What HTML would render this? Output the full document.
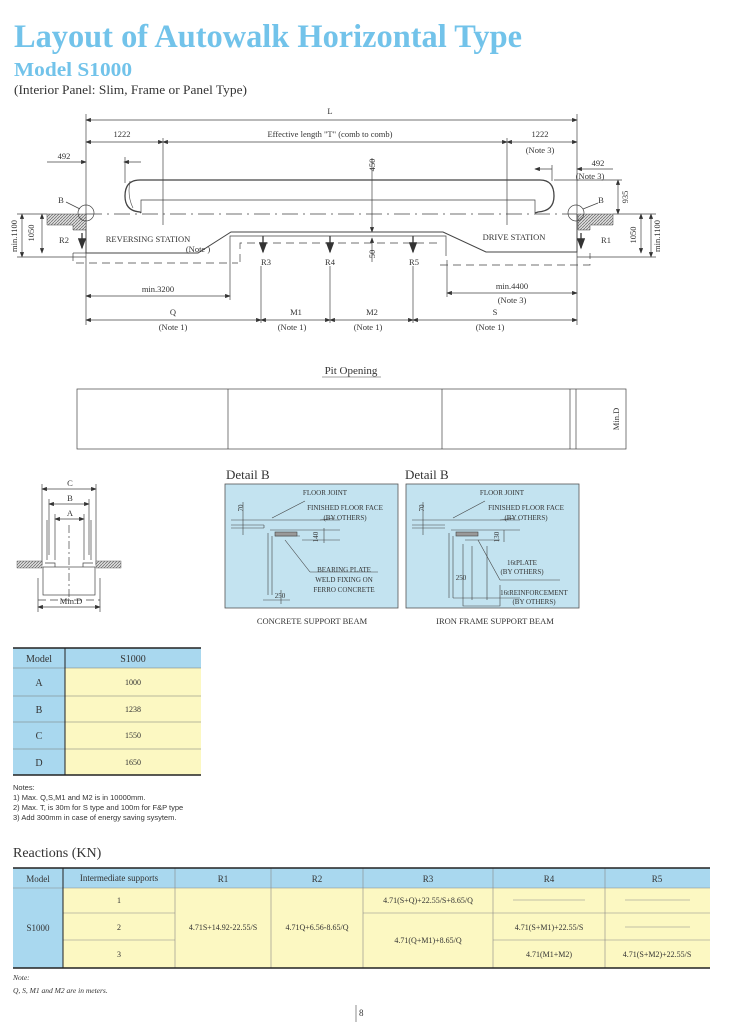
<!DOCTYPE html>
<html><head><meta charset="utf-8"><style>
html,body{margin:0;padding:0;background:#fff;}
svg{display:block;}
text{font-family:"Liberation Serif",serif;fill:#333;}
.s{font-family:"Liberation Sans",sans-serif;}
</style></head><body>
<svg width="730" height="1024" viewBox="0 0 730 1024" xmlns="http://www.w3.org/2000/svg">
<defs>
<marker id="a" markerWidth="8" markerHeight="6" refX="7" refY="3" orient="auto-start-reverse"><path d="M0,0 L8,3 L0,6z" fill="#333"/></marker>
<pattern id="h" width="3" height="3" patternUnits="userSpaceOnUse"><rect width="3" height="3" fill="#ddd"/><path d="M0,3 L3,0" stroke="#666" stroke-width="0.7"/></pattern>
</defs>
<!-- Titles -->
<text x="14" y="47" font-size="33" font-weight="bold" style="fill:#72c3ea" textLength="508" lengthAdjust="spacingAndGlyphs">Layout of Autowalk Horizontal Type</text>
<text x="14" y="76" font-size="20" font-weight="bold" style="fill:#72c3ea" textLength="118" lengthAdjust="spacingAndGlyphs">Model S1000</text>
<text x="14" y="94" font-size="13" textLength="233" lengthAdjust="spacingAndGlyphs">(Interior Panel: Slim, Frame or Panel Type)</text>

<g stroke="#444" stroke-width="0.7" fill="none">
<line x1="86" y1="120" x2="577" y2="120" marker-start="url(#a)" marker-end="url(#a)"/>
<line x1="86" y1="142" x2="163" y2="142" marker-start="url(#a)" marker-end="url(#a)"/>
<line x1="163" y1="142" x2="507" y2="142" marker-start="url(#a)" marker-end="url(#a)"/>
<line x1="507" y1="142" x2="577" y2="142" marker-start="url(#a)" marker-end="url(#a)"/>
<line x1="86" y1="114" x2="86" y2="325"/>
<line x1="577" y1="114" x2="577" y2="325"/>
<line x1="163" y1="138" x2="163" y2="225"/>
<line x1="507" y1="138" x2="507" y2="225"/>
<line x1="47" y1="162" x2="86" y2="162" marker-end="url(#a)"/>
<line x1="124" y1="162" x2="141" y2="162" marker-start="url(#a)"/>
<line x1="125" y1="157" x2="125" y2="183"/>
<line x1="535" y1="169" x2="552" y2="169" marker-start="url(#a)"/>
<line x1="577" y1="169" x2="613" y2="169" marker-start="url(#a)"/>
<line x1="552" y1="165" x2="552" y2="181"/>
<path d="M140,180 L540,180 Q554,180 554,196 Q554,211 538,212 L535,213 M140,180 Q125,180 125,196 Q125,211 140,212 L141,213" stroke-width="1.3"/>
<path d="M130,181 Q127,196 133,208" stroke-width="0.6"/>
<path d="M141,213 L141,200 L535,200 L535,213"/>
<line x1="86" y1="214" x2="577" y2="214" stroke-dasharray="16,5,2,5"/>
<line x1="372" y1="158" x2="372" y2="232" marker-end="url(#a)"/>
<line x1="372" y1="238" x2="372" y2="262" marker-start="url(#a)"/>
<line x1="618" y1="180" x2="618" y2="214" marker-start="url(#a)" marker-end="url(#a)"/>
<line x1="554" y1="180" x2="622" y2="180"/>
<path d="M86,214 L86,253 L198,253 L231,232 L443,232 L486,252 L577,252 L577,214" stroke-width="1"/>
<path d="M230,300 L230,236 L446,236 L446,256" />
<path d="M240,262 L240,243 L440,243" stroke-dasharray="8,5"/>
<path d="M73,253 L73,263 L238,263 M440,265 L590,265 L590,253" stroke-dasharray="8,5"/>
<line x1="73" y1="253" x2="86" y2="253"/>
<path d="M47,214 L86,214 L86,230 L73,230 L73,225 L47,225z" fill="url(#h)" stroke-width="0.5"/>
<path d="M578,214 L613,214 L613,225 L590,225 L590,230 L578,230z" fill="url(#h)" stroke-width="0.5"/>
<circle cx="86" cy="213" r="8"/><circle cx="576" cy="213" r="8"/>
<line x1="66" y1="202" x2="80" y2="209"/><line x1="598" y1="203" x2="583" y2="209"/>
<line x1="42" y1="214" x2="42" y2="253" marker-start="url(#a)" marker-end="url(#a)"/>
<line x1="22" y1="214" x2="22" y2="257" marker-start="url(#a)" marker-end="url(#a)"/>
<line x1="641" y1="214" x2="641" y2="253" marker-start="url(#a)" marker-end="url(#a)"/>
<line x1="651" y1="214" x2="651" y2="257" marker-start="url(#a)" marker-end="url(#a)"/>
<line x1="17" y1="214" x2="47" y2="214"/><line x1="17" y1="257" x2="86" y2="257"/>
<line x1="613" y1="214" x2="656" y2="214"/><line x1="577" y1="257" x2="656" y2="257"/>
<g stroke-width="1.4">
<line x1="82" y1="233" x2="82" y2="248" marker-end="url(#a)"/>
<line x1="581" y1="233" x2="581" y2="248" marker-end="url(#a)"/>
<line x1="263" y1="236" x2="263" y2="252" marker-end="url(#a)"/>
<line x1="330" y1="236" x2="330" y2="252" marker-end="url(#a)"/>
<line x1="413" y1="236" x2="413" y2="252" marker-end="url(#a)"/>
</g>
<line x1="261" y1="266" x2="261" y2="323"/><line x1="330" y1="266" x2="330" y2="323"/><line x1="413" y1="266" x2="413" y2="323"/>
<line x1="447" y1="260" x2="447" y2="297"/>
<line x1="86" y1="296" x2="230" y2="296" marker-start="url(#a)" marker-end="url(#a)"/>
<line x1="447" y1="293" x2="577" y2="293" marker-start="url(#a)" marker-end="url(#a)"/>
<line x1="86" y1="320" x2="261" y2="320" marker-start="url(#a)" marker-end="url(#a)"/>
<line x1="261" y1="320" x2="330" y2="320" marker-start="url(#a)" marker-end="url(#a)"/>
<line x1="330" y1="320" x2="413" y2="320" marker-start="url(#a)" marker-end="url(#a)"/>
<line x1="413" y1="320" x2="577" y2="320" marker-start="url(#a)" marker-end="url(#a)"/>
<rect x="77" y="389" width="549" height="60"/>
<line x1="228" y1="389" x2="228" y2="449"/><line x1="442" y1="389" x2="442" y2="449"/>
<line x1="570" y1="389" x2="570" y2="449"/><line x1="576" y1="389" x2="576" y2="449"/>
<line x1="42" y1="489" x2="96" y2="489" marker-start="url(#a)" marker-end="url(#a)"/>
<line x1="49" y1="504" x2="89" y2="504" marker-start="url(#a)" marker-end="url(#a)"/>
<line x1="55" y1="519" x2="84" y2="519" marker-start="url(#a)" marker-end="url(#a)"/>
<line x1="42" y1="484" x2="42" y2="565"/><line x1="96" y1="484" x2="96" y2="565"/>
<line x1="49" y1="499" x2="49" y2="555"/><line x1="89" y1="499" x2="89" y2="555"/>
<line x1="55" y1="514" x2="55" y2="560"/><line x1="84" y1="514" x2="84" y2="560"/>
<line x1="47" y1="520" x2="47" y2="560"/><line x1="91" y1="520" x2="91" y2="560"/>
<line x1="69" y1="525" x2="69" y2="600" stroke-dasharray="8,3,2,3"/>
<rect x="43" y="567" width="52" height="28"/>
<path d="M45,563 L55,563 L55,567 M93,563 L83,563 L83,567"/>
<line x1="38" y1="600" x2="100" y2="600" stroke-dasharray="8,4"/>
<line x1="38" y1="578" x2="38" y2="612"/><line x1="100" y1="578" x2="100" y2="612"/>
<line x1="38" y1="607" x2="100" y2="607" marker-start="url(#a)" marker-end="url(#a)"/>
<rect x="17" y="561" width="25" height="7" fill="url(#h)" stroke-width="0.4"/>
<rect x="96" y="561" width="25" height="7" fill="url(#h)" stroke-width="0.4"/>
</g>

<g font-size="8.5" text-anchor="middle">
<text x="330" y="114">L</text>
<text x="122" y="137">1222</text>
<text x="330" y="137">Effective length "T" (comb to comb)</text>
<text x="540" y="137">1222</text>
<text x="540" y="153">(Note 3)</text>
<text x="64" y="159">492</text>
<text x="598" y="166">492</text>
<text x="590" y="179">(Note 3)</text>
<text x="61" y="203">B</text><text x="601" y="203">B</text>
<text x="148" y="242">REVERSING STATION</text>
<text x="198" y="252">(Note )</text>
<text x="514" y="240">DRIVE STATION</text>
<text x="64" y="243">R2</text><text x="606" y="243">R1</text>
<text x="266" y="265">R3</text><text x="330" y="265">R4</text><text x="414" y="265">R5</text>
<text x="158" y="292">min.3200</text>
<text x="512" y="289">min.4400</text>
<text x="512" y="303">(Note 3)</text>
<text x="173" y="315">Q</text><text x="296" y="315">M1</text><text x="372" y="315">M2</text><text x="495" y="315">S</text>
<text x="173" y="330">(Note 1)</text><text x="292" y="330">(Note 1)</text><text x="368" y="330">(Note 1)</text><text x="490" y="330">(Note 1)</text>
<text transform="translate(375,165) rotate(-90)">450</text>
<text transform="translate(375,254) rotate(-90)">50</text>
<text transform="translate(628,197) rotate(-90)">935</text>
<text transform="translate(34,233) rotate(-90)">1050</text>
<text transform="translate(17,236) rotate(-90)">min.1100</text>
<text transform="translate(636,235) rotate(-90)">1050</text>
<text transform="translate(660,236) rotate(-90)">min.1100</text>
<text transform="translate(619,419) rotate(-90)">Min.D</text>
<text x="70" y="486">C</text><text x="70" y="501">B</text><text x="70" y="516">A</text>
<text x="71" y="604">Min.D</text>
</g>
<text x="351" y="374" font-size="11" text-anchor="middle">Pit Opening</text>
<line x1="322" y1="377" x2="381" y2="377" stroke="#444" stroke-width="0.6"/>

<text x="226" y="479" font-size="13">Detail B</text>
<text x="405" y="479" font-size="13">Detail B</text>
<rect x="225" y="484" width="173" height="124" fill="#c3e3f0" stroke="#555" stroke-width="0.8"/>
<rect x="406" y="484" width="173" height="124" fill="#c3e3f0" stroke="#555" stroke-width="0.8"/>
<g stroke="#444" stroke-width="0.6" fill="none">
<path d="M231,520 L340,520 M231,525 L264,525 M231,528 L264,528 M264,525 L264,528 M270,530 L340,530 M268,533 L268,595 M272,536 L272,595 M275,536 L300,536 M302,540 L340,540 M263,600 L290,600"/>
<rect x="275" y="532" width="22" height="4" fill="#999"/>
<line x1="243" y1="502" x2="243" y2="535"/>
<line x1="305" y1="501" x2="272" y2="518"/><line x1="335" y1="518" x2="320" y2="520"/>
<line x1="324" y1="528" x2="324" y2="543"/>
<line x1="285" y1="540" x2="310" y2="572" /><line x1="310" y1="572" x2="378" y2="572"/>
<line x1="281" y1="590" x2="281" y2="604"/>
<path d="M412,520 L520,520 M412,525 L445,525 M412,528 L445,528 M451,530 L520,530 M449,533 L449,598 M453,536 L453,598 M465,540 L500,540 M463,544 L463,606 L500,606 L500,585 M472,546 L472,600 M487,546 L487,600 M453,598 L520,598"/>
<rect x="456" y="532" width="22" height="4" fill="#999"/>
<line x1="423" y1="502" x2="423" y2="535"/>
<line x1="485" y1="501" x2="453" y2="518"/><line x1="515" y1="518" x2="500" y2="520"/>
<line x1="504" y1="530" x2="504" y2="542"/>
<line x1="478" y1="540" x2="500" y2="580"/><line x1="500" y1="580" x2="560" y2="580"/>
</g>
<g font-size="7" text-anchor="middle">
<text x="325" y="495">FLOOR JOINT</text>
<text x="345" y="510">FINISHED FLOOR FACE</text><text x="345" y="520">(BY OTHERS)</text>
<text transform="translate(243,508) rotate(-90)">70</text>
<text transform="translate(318,537) rotate(-90)">140</text>
<text x="344" y="572">BEARING PLATE</text>
<text x="344" y="582">WELD FIXING ON</text>
<text x="344" y="592">FERRO CONCRETE</text>
<text x="280" y="598">250</text>
<text x="502" y="495">FLOOR JOINT</text>
<text x="526" y="510">FINISHED FLOOR FACE</text><text x="526" y="520">(BY OTHERS)</text>
<text transform="translate(424,508) rotate(-90)">70</text>
<text transform="translate(499,537) rotate(-90)">130</text>
<text x="522" y="565">16tPLATE</text><text x="522" y="574">(BY OTHERS)</text>
<text x="461" y="580">250</text>
<text x="534" y="595">16tREINFORCEMENT</text><text x="534" y="604">(BY OTHERS)</text>
<text x="312" y="624" font-size="8.5">CONCRETE SUPPORT BEAM</text>
<text x="495" y="624" font-size="8.5">IRON FRAME SUPPORT BEAM</text>
</g>

<rect x="13" y="648" width="188" height="127" fill="#fcf8c2"/>
<rect x="13" y="648" width="188" height="20" fill="#a9d8ef"/>
<rect x="13" y="648" width="52" height="127" fill="#a9d8ef"/>
<g stroke="#777" stroke-width="0.6">
<line x1="13" y1="696" x2="201" y2="696"/><line x1="13" y1="722" x2="201" y2="722"/><line x1="13" y1="749" x2="201" y2="749"/>
<line x1="13" y1="668" x2="201" y2="668"/>
</g>
<line x1="65" y1="648" x2="65" y2="775" stroke="#222" stroke-width="1"/>
<line x1="13" y1="648" x2="201" y2="648" stroke="#222" stroke-width="1.5"/>
<line x1="13" y1="775" x2="201" y2="775" stroke="#222" stroke-width="1.5"/>
<g text-anchor="middle" font-size="10">
<text x="39" y="662">Model</text><text x="133" y="662">S1000</text>
<text x="39" y="686">A</text><text x="39" y="713">B</text><text x="39" y="739">C</text><text x="39" y="766">D</text>
<g font-size="8"><text x="133" y="685">1000</text><text x="133" y="712">1238</text><text x="133" y="738">1550</text><text x="133" y="765">1650</text></g>
</g>
<g font-size="7.5">
<text class="s" x="13" y="790">Notes:</text>
<text class="s" x="13" y="800">1) Max. Q,S,M1 and M2 is in 10000mm.</text>
<text class="s" x="13" y="810">2) Max. T, is 30m for S type and 100m for F&amp;P type</text>
<text class="s" x="13" y="820">3) Add 300mm in case of energy saving sysytem.</text>
</g>

<text x="13" y="857" font-size="14">Reactions (KN)</text>
<rect x="13" y="868" width="697" height="100" fill="#fcf8c2"/>
<rect x="13" y="868" width="697" height="20" fill="#a9d8ef"/>
<rect x="13" y="868" width="50" height="100" fill="#a9d8ef"/>
<g stroke="#888" stroke-width="0.6">
<line x1="63" y1="913" x2="175" y2="913"/><line x1="63" y1="940" x2="175" y2="940"/>
<line x1="363" y1="913" x2="493" y2="913"/>
<line x1="493" y1="913" x2="710" y2="913"/><line x1="493" y1="940" x2="710" y2="940"/>
<line x1="175" y1="868" x2="175" y2="968"/><line x1="271" y1="868" x2="271" y2="968"/>
<line x1="363" y1="868" x2="363" y2="968"/><line x1="493" y1="868" x2="493" y2="968"/>
<line x1="605" y1="868" x2="605" y2="968"/>
<line x1="13" y1="888" x2="710" y2="888"/>
<line x1="513" y1="900" x2="585" y2="900"/><line x1="625" y1="900" x2="690" y2="900"/><line x1="625" y1="927" x2="690" y2="927"/>
</g>
<line x1="63" y1="868" x2="63" y2="968" stroke="#222" stroke-width="1"/>
<line x1="13" y1="868" x2="710" y2="868" stroke="#222" stroke-width="1.5"/>
<line x1="13" y1="968" x2="710" y2="968" stroke="#222" stroke-width="1.5"/>
<g text-anchor="middle" font-size="8">
<text x="38" y="882" font-size="9">Model</text>
<text x="119" y="881" font-size="9">Intermediate supports</text>
<text x="223" y="882" font-size="9">R1</text><text x="317" y="882" font-size="9">R2</text>
<text x="428" y="882" font-size="9">R3</text><text x="549" y="882" font-size="9">R4</text><text x="657" y="882" font-size="9">R5</text>
<text x="38" y="931" font-size="9">S1000</text>
<text x="119" y="903">1</text><text x="119" y="930">2</text><text x="119" y="957">3</text>
<text x="223" y="930">4.71S+14.92-22.55/S</text>
<text x="317" y="930">4.71Q+6.56-8.65/Q</text>
<text x="428" y="903">4.71(S+Q)+22.55/S+8.65/Q</text>
<text x="428" y="943">4.71(Q+M1)+8.65/Q</text>
<text x="549" y="930">4.71(S+M1)+22.55/S</text>
<text x="549" y="957">4.71(M1+M2)</text>
<text x="657" y="957">4.71(S+M2)+22.55/S</text>
</g>
<text x="13" y="980" font-size="7.5" font-style="italic">Note:</text>
<text x="13" y="993" font-size="7.5" font-style="italic">Q, S, M1 and M2 are in meters.</text>
<line x1="356" y1="1005" x2="356" y2="1022" stroke="#444" stroke-width="0.6"/>
<text x="359" y="1016" font-size="9">8</text>
</svg>
</body></html>
